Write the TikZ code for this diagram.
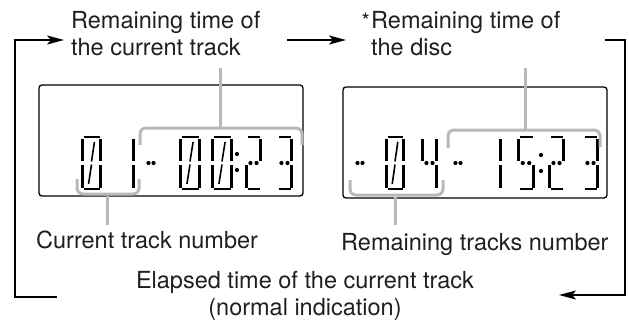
\documentclass[tikz,border=0pt]{standalone}
\usepackage{fontspec}
\setmainfont{TeX Gyre Heros}
\usetikzlibrary{arrows.meta}
\definecolor{bracketgray}{gray}{0.72}
\definecolor{inkgray}{gray}{0.12}
\tikzset{
  lbl/.style={inner sep=0pt, text=inkgray, font=\fontsize{23.5}{27}\selectfont, align=left},
  loopline/.style={line width=2pt, -{Stealth[length=17pt,width=9pt,inset=4pt]}},
  dispbox/.style={draw, line width=1.3pt, rounded corners=3pt},
  brk/.style={draw=bracketgray, line width=3pt, rounded corners=6pt},
  stem/.style={draw=bracketgray, line width=3pt},
  lcdv/.style={line width=3pt},
  lcdh/.style={line width=2.2pt},
  lcds/.style={line width=1.6pt},
}
\newcommand\lcdT{136}
\newcommand\lcdM{163}
\newcommand\lcdB{190}
\newcommand\lcdsegA[1]{\draw[lcdh] (2.5,\lcdT+1) -- (#1-2.5,\lcdT+1);}
\newcommand\lcdsegF[1]{\draw[lcdv] (1.5,\lcdT+2.5) -- (1.5,\lcdM-2);}
\newcommand\lcdsegB[1]{\draw[lcdv] (#1-1.5,\lcdT+2.5) -- (#1-1.5,\lcdM-2);}
\newcommand\lcdsegE[1]{\draw[lcdv] (1.5,\lcdM+2) -- (1.5,\lcdB-2.5);}
\newcommand\lcdsegC[1]{\draw[lcdv] (#1-1.5,\lcdM+2) -- (#1-1.5,\lcdB-2.5);}
\newcommand\lcdsegD[1]{\draw[lcdh] (2.5,\lcdB-1) -- (#1-2.5,\lcdB-1);}
\newcommand\lcdsegG[1]{\fill (0.32*#1,\lcdM) circle[radius=2.1pt] (0.68*#1,\lcdM) circle[radius=2.1pt];}
\newcommand\lcdsegS[1]{\draw[lcds] (0.36*#1,\lcdB-6) -- (0.5*#1,\lcdM+1.5) (0.5*#1,\lcdM-1.5) -- (0.64*#1,\lcdT+6);}
\newcommand\lcddigit[3]{%
  \begin{scope}[shift={(#1,0)}]
    \foreach \s in {#3}{\csname lcdseg\s\endcsname{#2}}
  \end{scope}}
\begin{document}
\begin{tikzpicture}[x=1pt,y=-1pt]
\useasboundingbox (0,0) rectangle (629,325);

% labels (base anchor = baseline of the last line)
\node[lbl, anchor=base west] (t1) at (71,55) {Remaining time of\\the current track};
\node[lbl, anchor=base west] (t2) at (371,55) {\llap{{\fontsize{21}{21}\selectfont *}\hspace{1.5pt}}Remaining time of\\the disc};
\node[lbl, anchor=base west] (t3) at (36,248) {Current track number};
\node[lbl, anchor=base west] (t4) at (341,250) {Remaining tracks number};
\node[lbl, align=center, anchor=base] (t5) at (305,315) {Elapsed time of the current track\\(normal indication)};

% displays
\draw[dispbox] (39,85) rectangle (303,196);
\draw[dispbox] (343,87) rectangle (607,198);

% left display digits
\lcddigit{81}{21}{A,B,C,D,E,F,S}
\lcddigit{114}{21}{B,C}
\lcddigit{144}{14}{G}
\lcddigit{179}{22}{A,B,C,D,E,F,S}
\lcddigit{211}{22}{A,B,C,D,E,F,S}
\fill (237,154) circle[radius=2.1pt] (237,170) circle[radius=2.1pt];
\lcddigit{245}{17}{A,B,G,E,D}
\lcddigit{276}{17}{A,B,G,C,D}

% right display digits
\lcddigit{353}{14}{G}
\lcddigit{385}{20}{A,B,C,D,E,F,S}
\lcddigit{421}{17}{F,B,G,C}
\lcddigit{451}{14}{G}
\lcddigit{485}{17}{B,C}
\lcddigit{517}{18}{A,F,G,C,D}
\fill (541,155) circle[radius=2.1pt] (541,171) circle[radius=2.1pt];
\lcddigit{548}{17}{A,B,G,E,D}
\lcddigit{582}{17}{A,B,G,C,D}

% gray brackets
\draw[brk] (140,145) -- (140,128) -- (302,128) -- (302,145);
\draw[brk] (77,179) -- (77,194) -- (139,194) -- (139,179);
\draw[brk] (448,148) -- (448,130) -- (600,130) -- (600,147);
\draw[brk] (350,180) -- (350,195) -- (443,195) -- (443,180);
\coordinate (s1a) at (220,128); \coordinate (s1b) at (220,68);
\coordinate (s2a) at (107,196); \coordinate (s2b) at (107,225);
\coordinate (s3a) at (525,130); \coordinate (s3b) at (525,68);
\coordinate (s4a) at (395,197); \coordinate (s4b) at (395,225);
\draw[stem] (s1a) -- (s1b);
\draw[stem] (s2a) -- (s2b);
\draw[stem] (s3a) -- (s3b);
\draw[stem] (s4a) -- (s4b);

% loop arrows
\coordinate (lstart) at (57,297); \coordinate (ltip) at (64,40);
\coordinate (mstart) at (287,40); \coordinate (mtip) at (346,40);
\coordinate (rstart) at (605,40); \coordinate (rtip) at (559,295);
\draw[loopline] (lstart) -- ++(-42,0) |- (ltip);
\draw[loopline] (mstart) -- (mtip);
\draw[loopline] (rstart) -- ++(20,0) |- (rtip);
\end{tikzpicture}
\end{document}
